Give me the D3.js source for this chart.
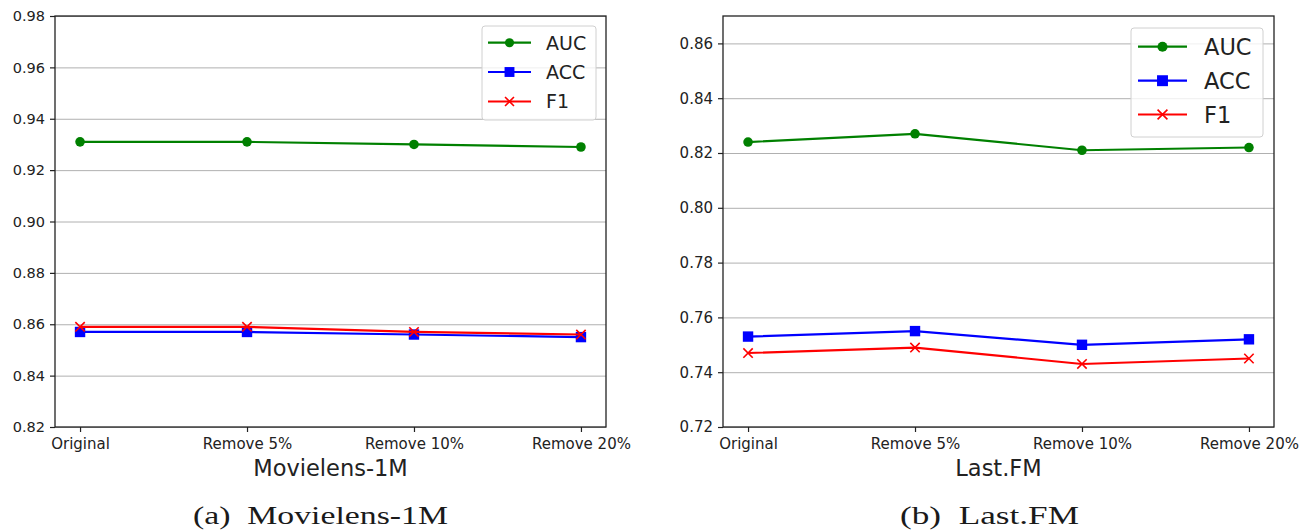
<!DOCTYPE html>
<html>
<head>
<meta charset="utf-8">
<script src="https://cdn.jsdelivr.net/npm/d3@7"></script>
<style>
  html, body { margin: 0; padding: 0; background: #fff; }
  svg { display: block; }
</style>
</head>
<body>
<svg id="chart" width="1311" height="531"></svg>
<script>
// ---- data ----
const categories = ["Original", "Remove 5%", "Remove 10%", "Remove 20%"];
const seriesNames = ["AUC", "ACC", "F1"];

const mlAUC = [0.931, 0.931, 0.930, 0.929];
const mlACC = [0.857, 0.857, 0.856, 0.855];
const mlF1  = [0.859, 0.859, 0.857, 0.856];

const fmAUC = [0.824, 0.827, 0.821, 0.822];
const fmACC = [0.753, 0.755, 0.750, 0.752];
const fmF1  = [0.747, 0.749, 0.743, 0.745];

const mlTicks = [0.82, 0.84, 0.86, 0.88, 0.90, 0.92, 0.94, 0.96, 0.98];
const fmTicks = [0.72, 0.74, 0.76, 0.78, 0.80, 0.82, 0.84, 0.86];

const mlDomain = [0.82, 0.98];
const fmDomain = [0.72, 0.87];

// ---- styles ----
const colors = { AUC: "#008000", ACC: "#0000ff", F1: "#ff0000" };
const markers = { AUC: "circle", ACC: "square", F1: "x" };

const svg = d3.select("#chart");
const FONT = "'DejaVu Sans', sans-serif";

function drawMarker(g, type, x, y, color, s) {
  if (type === "circle") {
    g.append("circle").attr("cx", x).attr("cy", y).attr("r", 4.8 * s).attr("fill", color);
  } else if (type === "square") {
    const h = 5.2 * s;
    g.append("rect").attr("x", x - h).attr("y", y - h).attr("width", 2 * h).attr("height", 2 * h).attr("fill", color);
  } else {
    const h = 4.7 * s;
    g.append("path")
      .attr("d", `M${x - h},${y - h}L${x + h},${y + h}M${x - h},${y + h}L${x + h},${y - h}`)
      .attr("stroke", color).attr("stroke-width", 1.6).attr("fill", "none");
  }
}

function panel(opts) {
  const { left, right, top, bottom, domain, ticks, data, title, titleX, caption, capLabel, capX, capWidth, tickFont, legend } = opts;
  const g = svg.append("g");
  const x = d3.scalePoint().domain(categories).range([left, right]).padding(0.15);
  const y = d3.scaleLinear().domain(domain).range([bottom, top]);

  // grid
  const grid = g.append("g").attr("transform", `translate(${left},0)`)
    .call(d3.axisLeft(y).tickValues(ticks).tickSize(-(right - left)).tickFormat(""));
  grid.select(".domain").remove();
  grid.selectAll("line").attr("stroke", "#b0b0b0").attr("stroke-width", 1);

  // y axis
  const ya = g.append("g").attr("transform", `translate(${left},0)`)
    .call(d3.axisLeft(y).tickValues(ticks).tickFormat(d3.format(".2f")).tickSize(5).tickPadding(5));
  ya.select(".domain").remove();
  ya.selectAll("line").attr("stroke", "#222").attr("stroke-width", 1.2);
  ya.selectAll("text").attr("font-family", FONT).attr("font-size", tickFont).attr("fill", "#222");

  // x axis
  const xa = g.append("g").attr("transform", `translate(0,${bottom})`)
    .call(d3.axisBottom(x).tickSize(5).tickPadding(6));
  xa.select(".domain").remove();
  xa.selectAll("line").attr("stroke", "#222").attr("stroke-width", 1.2);
  xa.selectAll("text").attr("font-family", FONT).attr("font-size", 15).attr("fill", "#222");

  // lines and markers
  seriesNames.forEach(name => {
    const vals = data[name];
    const line = d3.line().x((d, i) => x(categories[i])).y(d => y(d));
    g.append("path").datum(vals).attr("d", line)
      .attr("fill", "none").attr("stroke", colors[name]).attr("stroke-width", 2.2);
    const mg = g.append("g");
    vals.forEach((v, i) => drawMarker(mg, markers[name], x(categories[i]), y(v), colors[name], 1));
  });

  // frame
  g.append("rect").attr("x", left).attr("y", top).attr("width", right - left).attr("height", bottom - top)
    .attr("fill", "none").attr("stroke", "#222").attr("stroke-width", 1.3);

  // legend
  const lg = g.append("g");
  lg.append("rect").attr("x", legend.x0).attr("y", legend.y0)
    .attr("width", legend.x1 - legend.x0).attr("height", legend.y1 - legend.y0)
    .attr("rx", 3).attr("fill", "#fff").attr("fill-opacity", 0.8)
    .attr("stroke", "#d0d0d0").attr("stroke-width", 1);
  seriesNames.forEach((name, i) => {
    const ry = legend.rows[i];
    lg.append("line").attr("x1", legend.l0).attr("x2", legend.l1).attr("y1", ry).attr("y2", ry)
      .attr("stroke", colors[name]).attr("stroke-width", 2.2);
    drawMarker(lg, markers[name], (legend.l0 + legend.l1) / 2, ry, colors[name], legend.ms);
    lg.append("text").attr("x", legend.tx).attr("y", ry).attr("dy", "0.36em")
      .attr("font-family", FONT).attr("font-size", legend.fs).attr("fill", "#222").text(name);
  });

  // axis title
  g.append("text").attr("x", titleX).attr("y", 476).attr("text-anchor", "middle")
    .attr("font-family", FONT).attr("font-size", 22.5).attr("fill", "#222").text(title);

  // caption
  g.append("text").attr("x", capX).attr("y", 524).attr("text-anchor", "middle")
    .attr("font-family", "'Liberation Serif', 'DejaVu Serif', serif").attr("font-size", 25)
    .attr("fill", "#1a1a1a")
    .attr("textLength", capWidth).attr("lengthAdjust", "spacingAndGlyphs")
    .attr("xml:space", "preserve")
    .text(capLabel + "  " + caption);
}

panel({
  left: 55, right: 606, top: 16, bottom: 427,
  domain: mlDomain, ticks: mlTicks,
  data: { AUC: mlAUC, ACC: mlACC, F1: mlF1 },
  title: "Movielens-1M", titleX: 330.5,
  caption: "Movielens-1M", capLabel: "(a)", capX: 320.5, capWidth: 255,
  tickFont: 14.5,
  legend: { x0: 482, x1: 596, y0: 26, y1: 120, rows: [42.7, 72, 101.5], l0: 488, l1: 531, tx: 546, fs: 19, ms: 0.95 }
});

panel({
  left: 723, right: 1274, top: 16, bottom: 427,
  domain: fmDomain, ticks: fmTicks,
  data: { AUC: fmAUC, ACC: fmACC, F1: fmF1 },
  title: "Last.FM", titleX: 998.5,
  caption: "Last.FM", capLabel: "(b)", capX: 989.5, capWidth: 179,
  tickFont: 15,
  legend: { x0: 1131, x1: 1263, y0: 28, y1: 137, rows: [46.7, 80.7, 114.5], l0: 1138, l1: 1187, tx: 1204, fs: 22.5, ms: 1.05 }
});
</script>
</body>
</html>
